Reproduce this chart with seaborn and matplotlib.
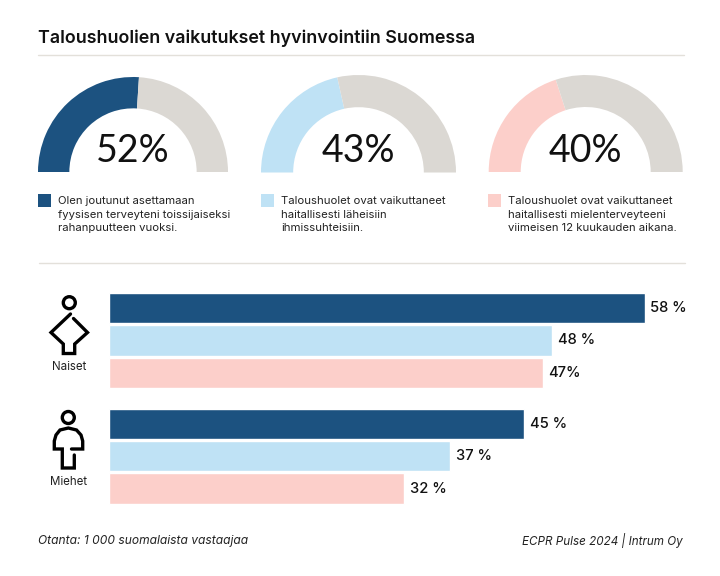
import pandas as pd
import matplotlib.pyplot as plt
import seaborn as sns

# Data
gauge_values = [52, 43, 40]
gauge_texts = [
    "Olen joutunut asettamaan\nfyysisen terveyteni toissijaiseksi\nrahanpuutteen vuoksi.",
    "Taloushuolet ovat vaikuttaneet\nhaitallisesti läheisiin\nihmissuhteisiin.",
    "Taloushuolet ovat vaikuttaneet\nhaitallisesti mielenterveyteeni\nviimeisen 12 kuukauden aikana.",
]
groups = ["Naiset", "Miehet"]
series = ["Terveys", "Ihmissuhteet", "Mielenterveys"]
health_values = [58, 45]
relations_values = [48, 37]
mental_values = [47, 32]
health_labels = ["58 %", "45 %"]
relations_labels = ["48 %", "37 %"]
mental_labels = ["47%", "32 %"]

W, H = 720, 576
DARK, LIGHT, PINK, GREY = "#1c5280", "#bfe2f5", "#fccfca", "#dbd8d3"
colors = [DARK, LIGHT, PINK]
INK = "#111111"

sns.set_theme(style="white")
plt.rcParams['font.family'] = ['Inter', 'DejaVu Sans']

fig = plt.figure(figsize=(W / 100, H / 100), dpi=100, facecolor="white")

# Koko kuvan taustakerros pikselikoordinaateilla
bg = fig.add_axes([0, 0, 1, 1])
bg.set_xlim(0, W)
bg.set_ylim(H, 0)
bg.axis("off")

bg.text(38, 38.5, "Taloushuolien vaikutukset hyvinvointiin Suomessa",
        fontsize=12.85, fontweight="semibold", color=INK, va="center")
bg.plot([38, 684], [54.5, 54.5], color="#e3e0da", lw=1)
bg.plot([39, 685], [262.5, 262.5], color="#e3e0da", lw=1)

# Puolikaaret
gauge_x = [133, 358.5, 585.7]
gauge_base = [172, 172.5, 172]
gauge_r = [95, 97.5, 97]
legend_x = [38, 261, 488]
for i, val in enumerate(gauge_values):
    cx, base, r = gauge_x[i], gauge_base[i], gauge_r[i]
    ax = fig.add_axes([(cx - r) / W, 1 - (base + r) / H, 2 * r / W, 2 * r / H])
    ax.pie([val, 100 - val, 100], colors=[colors[i], GREY, "none"], startangle=180,
           counterclock=False, radius=1, wedgeprops={"width": 0.33, "linewidth": 0})
    ax.set_xlim(-1, 1)
    ax.set_ylim(-1, 1)
    bg.text(cx, 150.5, f"{val}%", fontsize=27, family="Lato", color=INK, ha="center", va="center")
    bg.add_patch(plt.Rectangle((legend_x[i], 194), 13, 13, color=colors[i], lw=0))
    bg.text(legend_x[i] + 20, 214.5, gauge_texts[i], fontsize=8.15, color="#222222",
            va="center", linespacing=1.42)

# Palkit
df = pd.DataFrame({
    "group": groups * 3,
    "series": [series[0]] * 2 + [series[1]] * 2 + [series[2]] * 2,
    "value": health_values + relations_values + mental_values,
})
bars = fig.add_axes([108.6 / W, 1 - 514 / H, 600.6 / W, (514 - 282.6) / H])
bars.patch.set_alpha(0)
sns.barplot(data=df, x="value", y="group", hue="series", order=groups, hue_order=series,
            palette=colors, width=0.839, gap=0.055, legend=False, saturation=1, ax=bars)
bars.set_xlim(0, 65)
bars.set_ylim(1.5, -0.5)
bars.axis("off")
for cont, labels in zip(bars.containers, [health_labels, relations_labels, mental_labels]):
    bars.bar_label(cont, labels=labels, padding=4, fontsize=10.6, fontweight="medium", color=INK)

# Ikonit
bg.add_patch(plt.Circle((69.3, 302.7), 6, fill=False, ec="black", lw=2.4))
woman_x = [70.5, 51, 63.3, 63.3, 74.7, 74.7, 87.5, 73.5]
woman_y = [314, 332.5, 344, 353.5, 353.5, 344, 332.5, 318.5]
bg.plot(woman_x, woman_y, color="black", lw=2.4, solid_joinstyle="miter")

bg.add_patch(plt.Circle((68.3, 417.5), 6, fill=False, ec="black", lw=2.4))
man_x = [74.3, 74.3, 62.3, 62.3, 54.3, 54.3, 56, 60, 68.3, 76.5, 81, 82.7, 82.7, 71.5]
man_y = [455, 468, 468, 449, 449, 441, 435, 430, 428, 430, 435, 441, 449, 449]
bg.plot(man_x, man_y, color="black", lw=2.4, solid_joinstyle="miter")

bg.text(69, 366.5, groups[0], fontsize=8.3, color="#222222", ha="center", va="center")
bg.text(69, 482, groups[1], fontsize=8.3, color="#222222", ha="center", va="center")

# Alatekstit
bg.text(38, 541, "Otanta: 1 000 suomalaista vastaajaa", fontsize=8.65, style="italic", color="#222222", va="center")
bg.text(683, 541, "ECPR Pulse 2024 | Intrum Oy", fontsize=8.4, style="italic", color="#222222", ha="right", va="center")

fig.savefig("out.png", dpi=100)
